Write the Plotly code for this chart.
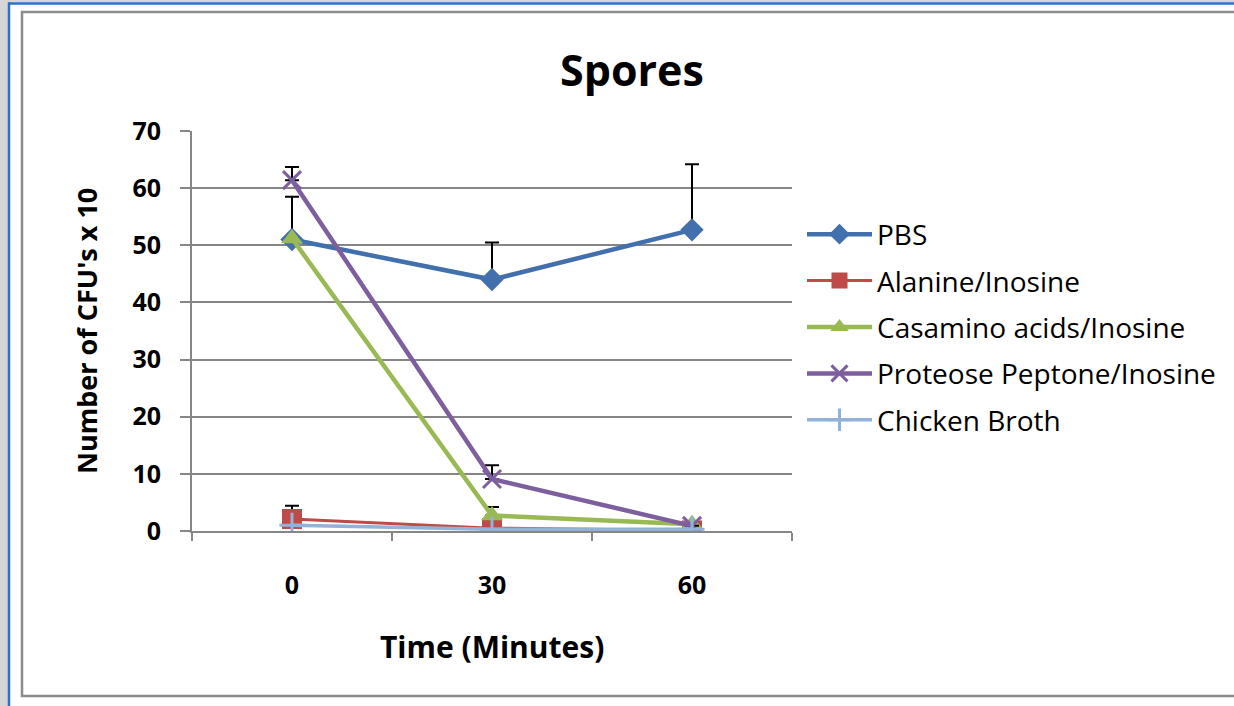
import plotly.graph_objects as go

times = ["0", "30", "60"]
series_names = ["PBS", "Alanine/Inosine", "Casamino acids/Inosine",
                "Proteose Peptone/Inosine", "Chicken Broth"]
pbs = [51.0, 44.0, 52.7]
alanine = [2.1, 0.5, 0.1]
casamino = [51.2, 2.7, 1.2]
proteose = [61.4, 9.1, 0.9]
chicken = [1.0, 0.3, 0.3]

pbs_err = [7.5, 6.5, 11.5]
alanine_err = [2.3, 0.3, 0.0]
casamino_err = [0.0, 1.5, 0.0]
proteose_err = [2.3, 2.4, 0.0]
chicken_err = [0.0, 0.0, 0.0]

values = [pbs, alanine, casamino, proteose, chicken]
errors = [pbs_err, alanine_err, casamino_err, proteose_err, chicken_err]
colors = ["#4170AC", "#BE4B48", "#98B954", "#7D5FA0", "#92B2DA"]
symbols = ["diamond", "square", "triangle-up", "x-thin", "cross-thin"]
msizes = [18, 20, 19, 18, 18]
lwidths = [4.5, 3, 4.5, 4.5, 3.5]

FONT = "Open Sans"

fig = go.Figure()
for i, (name, v, e, c, s, ms, lw) in enumerate(zip(series_names, values, errors, colors, symbols, msizes, lwidths)):
    thin = s.endswith("-thin")
    fig.add_trace(go.Scatter(
        x=times, y=v, name=name, mode="lines+markers", legendgroup=f"g{i}",
        line=dict(color=c, width=lw),
        marker=dict(symbol=s, size=ms, color=c,
                    line=dict(color=c, width=3 if thin else 0)),
        error_y=dict(type="data", symmetric=False, array=e,
                     arrayminus=[0] * len(e), color="black",
                     thickness=2, width=7,
                     visible=any(x > 0 for x in e)),
    ))

# plot area geometry in pixels
L, R, T, B = 192, 792, 131, 531
W, H = 1234, 706

def px(xp):
    return (xp - L) / (R - L)

def py(yp):
    return (B - yp) / (B - T)

shapes = [
    dict(type="rect", xref="paper", yref="paper", x0=px(-5), x1=px(8), y0=py(-5), y1=py(H + 10),
         fillcolor="#d6d6d6", line=dict(width=0), layer="below"),
    dict(type="rect", xref="paper", yref="paper", x0=px(8), x1=px(W + 10), y0=py(-5), y1=py(2.5),
         fillcolor="#d6d6d6", line=dict(width=0), layer="below"),
    dict(type="line", xref="paper", yref="paper", x0=px(9), x1=px(9), y0=py(2.5), y1=py(H + 10),
         line=dict(color="#2a72c8", width=2.5)),
    dict(type="line", xref="paper", yref="paper", x0=px(8), x1=px(W + 10), y0=py(3.5), y1=py(3.5),
         line=dict(color="#2a72c8", width=2.5)),
    dict(type="rect", xref="paper", yref="paper", x0=px(22), x1=px(W + 20), y0=py(12), y1=py(696),
         line=dict(color="#8c8c8c", width=2.5), fillcolor="rgba(0,0,0,0)"),
]

annotations = [
    dict(text="<b>Spores</b>", xref="paper", yref="paper", x=px(632), y=py(70),
         showarrow=False, font=dict(family=FONT, size=43, color="black"),
         xanchor="center", yanchor="middle"),
    dict(text="<b>Time (Minutes)</b>", xref="paper", yref="paper", x=px(492), y=py(646),
         showarrow=False, font=dict(family=FONT, size=30, color="black"),
         xanchor="center", yanchor="middle"),
    dict(text="<b>Number of CFU's x 10</b>", xref="paper", yref="paper", x=px(86), y=py(331),
         showarrow=False, textangle=-90, font=dict(family=FONT, size=27, color="black"),
         xanchor="center", yanchor="middle"),
]

fig.update_layout(
    width=W, height=H,
    margin=dict(l=L, r=W - R, t=T, b=H - B),
    paper_bgcolor="white", plot_bgcolor="white",
    showlegend=True,
    legend=dict(x=px(802), y=py(327), xanchor="left", yanchor="middle",
                font=dict(family=FONT, size=28, color="black"),
                itemwidth=65, tracegroupgap=7, bgcolor="rgba(0,0,0,0)"),
    shapes=shapes, annotations=annotations,
    xaxis=dict(type="category", range=[-0.5, 2.5], tickson="boundaries",
               ticks="outside", ticklen=8, tickwidth=2, tickcolor="#868686",
               showline=True, linecolor="#868686", linewidth=2,
               showgrid=False, zeroline=False, ticklabelstandoff=31,
               tickfont=dict(family=FONT, size=25, color="black", weight="bold")),
    yaxis=dict(range=[0, 70], dtick=10, tick0=0,
               ticks="outside", ticklen=10, tickwidth=2, tickcolor="#868686",
               showline=True, linecolor="#868686", linewidth=2,
               showgrid=True, gridcolor="#868686", gridwidth=2, zeroline=False,
               ticklabelstandoff=14,
               tickfont=dict(family=FONT, size=25, color="black", weight="bold")),
)

fig.write_html("out.html", config={"displayModeBar": False},
               post_script="document.body.style.margin='0';")
